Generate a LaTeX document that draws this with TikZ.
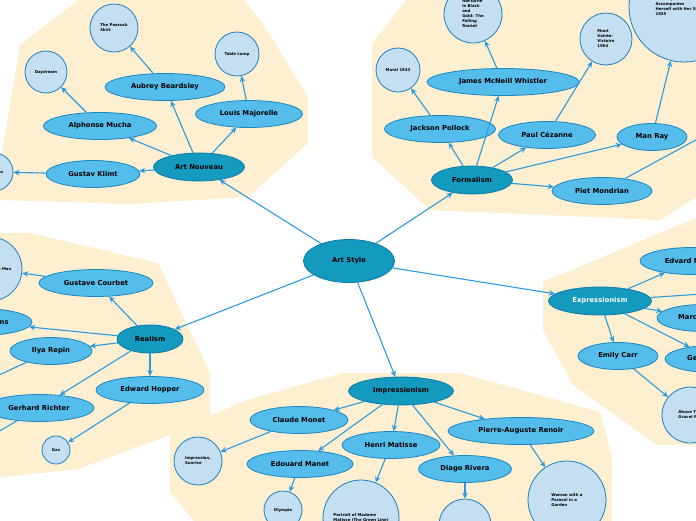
\documentclass[tikz,border=0pt]{standalone}
\usepackage{fontspec}
\setmainfont{DejaVu Sans}
\usetikzlibrary{arrows.meta, shapes.geometric}
\definecolor{hullcol}{HTML}{FDEFCF}
\definecolor{rootcol}{HTML}{1499BF}
\definecolor{rootline}{HTML}{0E7AA3}
\definecolor{artistcol}{HTML}{55BDEC}
\definecolor{artistline}{HTML}{1B85BE}
\definecolor{workcol}{HTML}{C4DFF2}
\definecolor{workline}{HTML}{1C80C0}
\definecolor{arrowcol}{HTML}{2A9BE0}

\begin{document}
\begin{tikzpicture}[x=1pt, y=-1pt,
    root/.style={ellipse, fill=rootcol, draw=rootline, line width=0.8pt, inner sep=0pt, minimum width=91pt, minimum height=43pt, font=\fontsize{6.8}{7}\selectfont\bfseries},
    topic/.style={ellipse, fill=rootcol, draw=rootline, line width=0.8pt, inner sep=0pt, minimum width=#1, minimum height=28pt, font=\fontsize{6.8}{7}\selectfont\bfseries},
    artist/.style={ellipse, fill=artistcol, draw=artistline, line width=0.8pt, inner sep=0pt, minimum width=#1, minimum height=27pt, font=\fontsize{6.8}{7}\selectfont\bfseries},
    work/.style={circle, fill=workcol, draw=workline, line width=0.8pt, inner sep=0pt, minimum size=#1, align=left, font=\fontsize{3.9}{5}\selectfont\bfseries},
    arrow/.style={-{Stealth[length=6pt, width=5.5pt]}, arrowcol, line width=1.1pt}
]
\useasboundingbox (0,0) rectangle (696,520);
\clip (0,0) rectangle (696,520);

% Hintergruende der Gruppen
\fill[hullcol] (-5,195) -- (20,45) -- (85,-5) -- (240,-5) -- (265,27) -- (308,97) -- (308,143) -- (248,197) -- (130,204) -- (0,200) -- cycle;
\fill[hullcol] (372,44) -- (410,-5) -- (700,-5) -- (700,195) -- (660,220) -- (430,210) -- (372,157) -- cycle;
\fill[hullcol] (-5,233) -- (30,233) -- (158,263) -- (210,373) -- (210,420) -- (78,469) -- (-5,478) -- cycle;
\fill[hullcol] (170,433) -- (247,400) -- (343,373) -- (460,373) -- (600,412) -- (612,457) -- (612,525) -- (197,525) -- (170,492) -- cycle;
\fill[hullcol] (543,282) -- (696,218) -- (700,218) -- (700,445) -- (657,445) -- (573,385) -- (543,330) -- cycle;

% Zentrum und Stilrichtungen
\node[root] (artstyle) at (349,261) {Art Style};
\node[topic=91pt] (nouveau) at (199,167) {Art Nouveau};
\node[topic=81pt] (formalism) at (472,180) {Formalism};
\node[topic=66pt] (realism) at (150,339) {Realism};
\node[topic=103pt, text=white] (expression) at (600,301) {Expressionism};
\node[topic=105pt] (impression) at (401,391) {Impressionism};

% Art Nouveau
\node[artist=120pt] (beardsley) at (165,87) {Aubrey Beardsley};
\node[artist=107pt] (majorelle) at (249,114) {Louis Majorelle};
\node[artist=113pt] (mucha) at (100,126) {Alphonse Mucha};
\node[artist=94pt] (klimt) at (93,174) {Gustav Klimt};
\node[work=48pt] (peacock) at (114,28) {The Peacock\\Skirt};
\node[work=44pt] (lamp) at (237,54) {Table Lamp};
\node[work=42pt] (daydream) at (46,72) {Daydream};
\node[work=38pt] (kiss) at (-6,172) {The Kiss};

% Formalism
\node[artist=152pt] (whistler) at (503,82) {James McNeill Whistler};
\node[artist=111pt] (pollock) at (440,129) {Jackson Pollock};
\node[artist=97pt] (cezanne) at (547,135) {Paul Cézanne};
\node[artist=70pt] (manray) at (652,137) {Man Ray};
\node[artist=100pt] (mondrian) at (602,191) {Piet Mondrian};
\node[work=44pt] (mural) at (398,70) {Mural 1943};
\node[work=58pt] (nocturne) at (473,14) {Nocturne\\in Black\\and\\Gold: The\\Falling\\Rocket};
\node[work=52pt] (victoire) at (606,39) {Mont\\Sainte-\\Victoire\\1904};
\node[work=110pt] (dancer) at (684,7) {The Rope Dancer\\Accompanies\\Herself with Her Shadows\\1935};
\coordinate (mondrianout) at (740,116);

% Realism
\node[artist=114pt] (courbet) at (96,283) {Gustave Courbet};
\node[artist=104pt] (eakins) at (-20,322) {Thomas Eakins};
\node[artist=82pt] (repin) at (51,351) {Ilya Repin};
\node[artist=110pt] (richter) at (39,408) {Gerhard Richter};
\node[artist=108pt] (hopper) at (150,390) {Edward Hopper};
\node[work=64pt] (desperate) at (-10,269) {The Desperate Man};
\node[work=28pt] (gas) at (56,450) {Gas};
\coordinate (repinout) at (-40,393);
\coordinate (richterout) at (-40,454);

% Expressionism
\node[artist=104pt] (munch) at (692,261) {Edvard Munch};
\node[artist=92pt] (chagall) at (703,318) {Marc Chagall};
\node[artist=96pt] (grosz) at (713,359) {George Grosz};
\node[artist=80pt] (carr) at (618,356) {Emily Carr};
\node[work=56pt] (gravel) at (690,415) {Above The\\Gravel Pit};
\coordinate (expressout) at (760,290);

% Impressionism
\node[artist=98pt] (monet) at (299,420) {Claude Monet};
\node[artist=98pt] (matisse) at (391,445) {Henri Matisse};
\node[artist=106pt] (manet) at (300,464) {Edouard Manet};
\node[artist=146pt] (renoir) at (521,431) {Pierre-Auguste Renoir};
\node[artist=93pt] (rivera) at (465,469) {Diago Rivera};
\node[work=48pt] (sunrise) at (198,461) {Impression,\\Sunrise};
\node[work=38pt] (olympia) at (283,510) {Olympia};
\node[work=76pt] (madame) at (361,518) {Portrait of Madame\\Matisse (The Green Line)};
\node[work=52pt] (riverawork) at (465,525) {};
\node[work=78pt] (parasol) at (567,500) {Woman with a\\Parasol in a\\Garden};

% Verbindungen
\draw[arrow] (artstyle) -- (nouveau);
\draw[arrow] (artstyle) -- (formalism);
\draw[arrow] (artstyle) -- (realism);
\draw[arrow] (artstyle) -- (expression);
\draw[arrow] (artstyle) -- (impression);

\draw[arrow] (nouveau) -- (beardsley);
\draw[arrow] (nouveau) -- (majorelle);
\draw[arrow] (nouveau) -- (mucha);
\draw[arrow] (nouveau) -- (klimt);
\draw[arrow] (beardsley) -- (peacock);
\draw[arrow] (majorelle) -- (lamp);
\draw[arrow] (mucha) -- (daydream);
\draw[arrow] (klimt) -- (kiss);

\draw[arrow] (formalism) -- (whistler);
\draw[arrow] (formalism) -- (pollock);
\draw[arrow] (formalism) -- (cezanne);
\draw[arrow] (formalism) -- (manray);
\draw[arrow] (formalism) -- (mondrian);
\draw[arrow] (pollock) -- (mural);
\draw[arrow] (whistler) -- (nocturne);
\draw[arrow] (cezanne) -- (victoire);
\draw[arrow] (manray) -- (dancer);
\draw[arrow] (mondrian) -- (mondrianout);

\draw[arrow] (realism) -- (courbet);
\draw[arrow] (realism) -- (eakins);
\draw[arrow] (realism) -- (repin);
\draw[arrow] (realism) -- (richter);
\draw[arrow] (realism) -- (hopper);
\draw[arrow] (courbet) -- (desperate);
\draw[arrow] (hopper) -- (gas);
\draw[arrow] (repin) -- (repinout);
\draw[arrow] (richter) -- (richterout);

\draw[arrow] (expression) -- (munch);
\draw[arrow] (expression) -- (expressout);
\draw[arrow] (expression) -- (chagall);
\draw[arrow] (expression) -- (grosz);
\draw[arrow] (expression) -- (carr);
\draw[arrow] (carr) -- (gravel);

\draw[arrow] (impression) -- (monet);
\draw[arrow] (impression) -- (manet);
\draw[arrow] (impression) -- (matisse);
\draw[arrow] (impression) -- (rivera);
\draw[arrow] (impression) -- (renoir);
\draw[arrow] (monet) -- (sunrise);
\draw[arrow] (manet) -- (olympia);
\draw[arrow] (matisse) -- (madame);
\draw[arrow] (rivera) -- (riverawork);
\draw[arrow] (renoir) -- (parasol);

\end{tikzpicture}
\end{document}
